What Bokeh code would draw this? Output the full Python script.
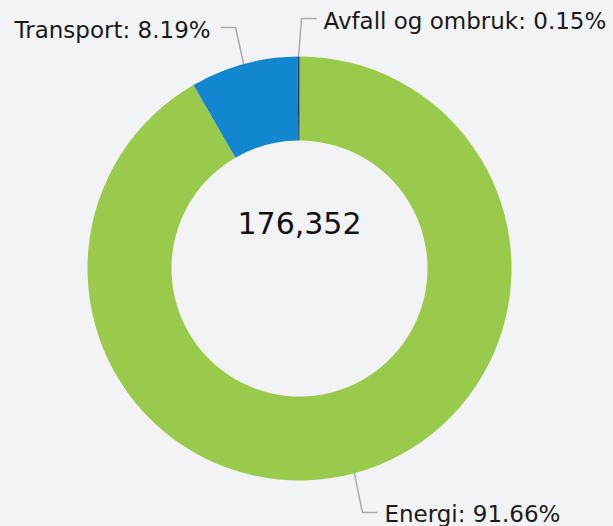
import math
from bokeh.plotting import figure
from bokeh.models import Range1d, ColumnDataSource
from bokeh.core.properties import value
from bokeh.embed import file_html
from bokeh.resources import INLINE

categories = ["Energi", "Transport", "Avfall og ombruk"]
percents = [91.66, 8.19, 0.15]
colors = ["#9ACA4B", "#1287D0", "#123C7C"]
total_label = "176,352"

W, H = 613, 526
BG = "#F2F3F5"
FONT = "DejaVu Sans"

p = figure(width=W, height=H, output_backend="svg", toolbar_location=None,
           x_range=Range1d(0, W), y_range=Range1d(0, H),
           background_fill_color=BG, border_fill_color=BG, min_border=0)
p.axis.visible = False
p.grid.visible = False
p.outline_line_color = None

cx, cy = 299, H - 268
r_out, r_in = 212, 128

# angles: start at top, go clockwise
starts, ends, mids = [], [], []
cum = 0.0
for v in percents:
    a0 = math.pi / 2 - 2 * math.pi * cum / 100
    a1 = math.pi / 2 - 2 * math.pi * (cum + v) / 100
    starts.append(a0)
    ends.append(a1)
    mids.append((a0 + a1) / 2)
    cum += v

src = ColumnDataSource(dict(start=starts, end=ends, color=colors))
p.annular_wedge(x=cx, y=cy, inner_radius=r_in, outer_radius=r_out,
                start_angle="start", end_angle="end", direction="clock",
                fill_color="color", line_color=None, source=src)

# labels with leader lines: (line y, text y, side, elbow dx)
label_pos = {"Energi": (H - 512, H - 513, "right", 8),
             "Transport": (H - 27, H - 29, "left", -8),
             "Avfall og ombruk": (H - 18, H - 20, "right", 3)}
for cat, v, m in zip(categories, percents, mids):
    ax = cx + r_out * math.cos(m)
    ay = cy + r_out * math.sin(m)
    ly, ty, side, dx = label_pos[cat]
    right = side == "right"
    ex = ax + dx
    hx = ex + 15 if right else ex - 15
    p.line([ax, ex, hx], [ay, ly, ly], line_color="#AAAAAA", line_width=1.5)
    tx = hx + 7 if right else hx - 10
    p.text([tx], [ty], text=[f"{cat}: {v:.2f}%"],
           text_align="left" if right else "right", text_baseline="middle",
           text_font=value(FONT), text_font_size="23px", text_color="#1A1A1A")

p.text([cx], [H - 222], text=[total_label], text_align="center",
       text_baseline="middle", text_font=value(FONT), text_font_size="30px",
       text_color="#111111")

html = file_html(p, INLINE)
html = html.replace("</head>", "<style>html,body{margin:0;padding:0;background:%s;overflow:hidden}</style></head>" % BG, 1)
open("out.html", "w").write(html)
